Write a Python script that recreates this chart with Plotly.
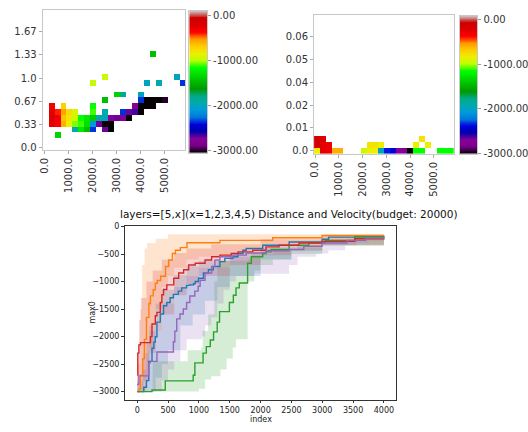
import plotly.graph_objects as go

W, H = 528, 432

# ---- nipy_spectral colormap (matplotlib segment data) ----
NIPY_POS = [0.00, 0.05, 0.10, 0.15, 0.20, 0.25, 0.30, 0.35, 0.40, 0.45, 0.50,
            0.55, 0.60, 0.65, 0.70, 0.75, 0.80, 0.85, 0.90, 0.95, 1.00]
NIPY_R = [0, .4667, .5333, 0, 0, 0, 0, 0, 0, 0, 0, 0, 0, .7333, .9333, 1, 1, 1, .8667, .8, .8]
NIPY_G = [0, 0, 0, 0, 0, .4667, .6, .6667, .6667, .6, .7333, .8667, 1, 1, .9333, .8, .6, 0, 0, 0, .8]
NIPY_B = [0, .5333, .6, .6667, .8667, .8667, .8667, .6667, .5333, 0, 0, 0, 0, 0, 0, 0, 0, 0, 0, 0, .8]
nipy = [[p, "rgb(%d,%d,%d)" % (round(r * 255), round(g * 255), round(b * 255))]
        for p, r, g, b in zip(NIPY_POS, NIPY_R, NIPY_G, NIPY_B)]

# ---- top-left heatmap: bin column, bin row, value ----
tl_col = [1, 1, 1, 1, 2, 2, 2, 3, 3, 3, 3, 4, 4, 4, 5, 5, 5, 5, 6, 6, 6, 7, 7, 7,
          8, 8, 8, 8, 8, 9, 9, 10, 10, 10, 10, 10, 11, 11, 12, 12, 13, 13, 13, 14, 14,
          15, 15, 16, 16, 16, 16, 17, 17, 17, 18, 18, 18, 19, 19, 20, 22, 23, 2, 8, 10, 11]
tl_row = [4, 5, 6, 7, 4, 5, 6, 4, 5, 6, 7, 4, 5, 6, 3, 4, 5, 6, 3, 4, 5, 3, 4, 5,
          3, 4, 5, 6, 7, 4, 5, 4, 5, 6, 8, 12, 4, 5, 5, 9, 5, 6, 9, 5, 6,
          6, 7, 6, 7, 8, 9, 7, 8, 11, 7, 8, 16, 8, 11, 8, 12, 11, 2, 11, 3, 3]
tl_val = [-250, -200, -250, -300, -350, -300, -400, -600, -650, -550, -700, -850, -800, -750,
          -1950, -1050, -950, -900, -1250, -1100, -1150, -1450, -1300, -1250,
          -2350, -2100, -1400, -1100, -1150, -2700, -1900, -3040, -2000, -1950, -1450, -950,
          -3040, -2750, -2700, -1350, -2750, -2350, -1800, -3040, -2700,
          -2650, -2750, -3040, -3040, -2350, -2000, -3040, -3040, -2000, -3040, -3040, -1450,
          -3040, -1950, -3000, -2000, -2350, -1350, -950, -2700, -3040]

# ---- top-right heatmap ----
tr_col = [0, 1, 2, 3, 4, 8, 9, 10, 11, 12, 13, 14, 15, 16, 17, 18, 21, 22, 23,
          0, 1, 2, 9, 10, 11, 17, 19, 0, 1, 18]
tr_row = [0] * 19 + [1] * 8 + [2] * 3
tr_val = [-850, -250, -300, -600, -600, -950, -850, -850, -2000, -2350, -2400, -2700, -2750,
          -3000, -1150, -1150, -1150, -1150, -1150,
          -200, -250, -300, -800, -800, -850, -850, -850, -150, -200, -800]

# colour ranges of the two colour bars
TL_ZRANGE = [-3045, 105]
TR_ZRANGE = [-3000, 80]
CB_TICKS = [0, -1000, -2000, -3000]
CB_LABELS = ["0.00", "-1000.00", "-2000.00", "-3000.00"]

# ---- bottom chart: step curves (index, max0) ----
blue_x = [0, 107, 150, 187, 240, 270, 294, 320, 374, 427, 480, 534, 587, 667, 721, 801, 854, 913,
          940, 994, 1074, 1154, 1234, 1341, 1421, 1554, 1634, 1714, 1768, 2035, 2463, 2997, 3103, 3530, 4000]
blue_y = [-3000, -2920, -2800, -2450, -2212, -2100, -2004, -1737, -1589, -1440, -1381, -1293, -1233,
          -1174, -1115, -1070, -1060, -1040, -1000, -940, -845, -786, -727, -638, -578, -549, -490,
          -430, -400, -341, -282, -230, -193, -180, -175]
blue_lo_x = [0, 250, 300, 400, 500, 700, 900, 1100, 1300, 1500, 2000, 2500, 3000, 4000]
blue_lo_y = [-3000, -3000, -2750, -2500, -2250, -1800, -1600, -1350, -1100, -900, -600, -450, -330, -250]
blue_hi_x = [0, 80, 150, 200, 300, 400, 600, 800, 1000, 1500, 2000, 3000, 4000]
blue_hi_y = [-3000, -2600, -2100, -1800, -1400, -1150, -880, -720, -620, -460, -360, -220, -150]

orange_x = [0, 30, 53, 90, 117, 150, 190, 214, 260, 294, 326, 380, 459, 510, 570, 620, 700, 807,
            1341, 2196, 2997, 4000]
orange_y = [-3000, -2950, -2700, -2400, -2050, -1650, -1400, -1260, -1150, -1030, -980, -904, -727,
            -608, -490, -430, -383, -294, -252, -205, -163, -160]
orange_lo_x = [0, 100, 150, 200, 250, 300, 400, 500, 600, 800, 1000, 1500, 2000, 3000, 4000]
orange_lo_y = [-3000, -3000, -2700, -2200, -1800, -1500, -1100, -900, -750, -600, -550, -450, -350, -260, -220]
orange_hi_x = [0, 50, 80, 120, 160, 300, 500, 4000]
orange_hi_y = [-2500, -1500, -700, -400, -300, -220, -140, -120]

green_x = [0, 240, 455, 908, 935, 1068, 1121, 1185, 1238, 1297, 1335, 1495, 1559, 1602, 1655,
           1790, 1850, 2035, 2088, 2170, 2463, 2784, 3050, 3530, 4000]
green_y = [-3000, -2970, -2805, -2704, -2478, -2300, -2182, -2063, -1915, -1737, -1547, -1381,
           -1250, -1115, -1025, -667, -549, -490, -460, -418, -341, -300, -252, -193, -190]
green_lo_x = [0, 900, 1000, 1100, 1200, 1350, 1450, 1550, 1600, 1780, 1790, 1900, 2000, 2200,
              2500, 3000, 4000]
green_lo_y = [-3000, -3000, -2950, -2780, -2720, -2600, -2400, -2200, -2050, -2050, -1000, -800,
              -700, -600, -500, -350, -220]
green_hi_x = [0, 230, 250, 800, 820, 1040, 1060, 1150, 1250, 1300, 1800, 1850, 2200, 2600, 3000,
              3500, 4000]
green_hi_y = [-3000, -3000, -2450, -2450, -2250, -2200, -1900, -1600, -1000, -620, -600, -500,
              -420, -330, -250, -200, -170]

red_x = [0, 10, 27, 53, 214, 240, 294, 320, 374, 400, 427, 480, 593, 673, 753, 834, 940, 1100,
         1207, 1341, 1527, 1634, 1874, 2088, 2300, 2624, 2997, 3530, 4000]
red_y = [-2700, -2300, -2150, -2110, -2000, -1770, -1620, -1560, -1380, -1240, -1145, -1060, -940,
         -845, -786, -700, -667, -608, -549, -520, -490, -460, -430, -370, -341, -300, -270, -222, -215]
red_lo_x = [0, 100, 200, 300, 400, 600, 800, 1000, 1500, 2000, 2500, 3000, 4000]
red_lo_y = [-3000, -2800, -2300, -1900, -1600, -1250, -1050, -900, -700, -520, -420, -340, -260]
red_hi_x = [0, 30, 60, 150, 250, 400, 600, 800, 1200, 2000, 3000, 4000]
red_hi_y = [-2300, -1700, -1300, -1000, -800, -600, -480, -400, -320, -230, -170, -150]

purple_x = [0, 27, 187, 214, 320, 587, 610, 641, 694, 748, 801, 854, 934, 988, 1020, 1100, 1207,
            1260, 1341, 1554, 1768, 2088, 2463, 2700, 2997, 3400, 3700, 4000]
purple_y = [-2870, -2715, -2478, -2450, -2280, -2093, -1900, -1678, -1589, -1500, -1381, -1263,
            -1174, -1085, -976, -845, -727, -608, -549, -520, -480, -440, -418, -358, -300, -252,
            -210, -195]
purple_lo_x = [0, 350, 400, 500, 600, 700, 800, 1050, 1100, 1200, 1300, 1400, 1500, 1600, 1900,
               2463, 2600, 2900, 3100, 3370, 3560, 3750, 4000]
purple_lo_y = [-3000, -3000, -2800, -2600, -2450, -2250, -2050, -2000, -1800, -1650, -1400, -1150,
               -1000, -900, -860, -700, -550, -490, -430, -340, -290, -250, -240]
purple_hi_x = [0, 100, 200, 400, 600, 800, 1000, 1500, 2000, 3000, 4000]
purple_hi_y = [-2800, -2300, -1900, -1400, -1100, -900, -750, -550, -400, -250, -170]

series = [
    ("#1f77b4", "31,119,180", blue_x, blue_y, blue_lo_x, blue_lo_y, blue_hi_x, blue_hi_y),
    ("#ff7f0e", "255,127,14", orange_x, orange_y, orange_lo_x, orange_lo_y, orange_hi_x, orange_hi_y),
    ("#2ca02c", "44,160,44", green_x, green_y, green_lo_x, green_lo_y, green_hi_x, green_hi_y),
    ("#d62728", "214,39,40", red_x, red_y, red_lo_x, red_lo_y, red_hi_x, red_hi_y),
    ("#9467bd", "148,103,189", purple_x, purple_y, purple_lo_x, purple_lo_y, purple_hi_x, purple_hi_y),
]

FONT = "DejaVu Sans"
fig = go.Figure()


def px_x(p):
    return p / W


def px_y(p):
    return 1 - p / H


def grid(cols, rows, vals, n=24):
    z = [[None] * n for _ in range(n)]
    for c, r, v in zip(cols, rows, vals):
        z[r][c] = v
    return z


def add_cbar(zr, xa, ya):
    n = 300
    step = (zr[1] - zr[0]) / n
    levels = [zr[0] + step * (k + 0.5) for k in range(n)]
    fig.add_trace(go.Heatmap(z=[[v] for v in levels], x0=0, dx=1, y0=levels[0], dy=step,
                             colorscale=nipy, zmin=zr[0], zmax=zr[1], showscale=False,
                             xaxis=xa, yaxis=ya, hoverinfo="skip"))


# top-left heatmap
TL_X = [-83, 5868]
TL_Y = [-0.028, 1.975]
dx1 = (TL_X[1] - TL_X[0]) / 24
dy1 = (TL_Y[1] - TL_Y[0]) / 24
fig.add_trace(go.Heatmap(
    z=grid(tl_col, tl_row, tl_val), x0=TL_X[0] + dx1 / 2, dx=dx1, y0=TL_Y[0] + dy1 / 2, dy=dy1,
    colorscale=nipy, zmin=TL_ZRANGE[0], zmax=TL_ZRANGE[1], showscale=False,
    xaxis="x", yaxis="y", hoverongaps=False))
add_cbar(TL_ZRANGE, "x4", "y4")

# top-right heatmap
TR_X = [-42, 5833]
TR_Y = [-0.0015, 0.0693]
dx2 = (TR_X[1] - TR_X[0]) / 24
dy2 = (TR_Y[1] - TR_Y[0]) / 24
fig.add_trace(go.Heatmap(
    z=grid(tr_col, tr_row, tr_val), x0=TR_X[0] + dx2 / 2, dx=dx2, y0=TR_Y[0] + dy2 / 2, dy=dy2,
    colorscale=nipy, zmin=TR_ZRANGE[0], zmax=TR_ZRANGE[1], showscale=False,
    xaxis="x2", yaxis="y2", hoverongaps=False))
add_cbar(TR_ZRANGE, "x5", "y5")

# bottom: bands first, then lines
for col, rgb, mx, my, lx, ly, hx, hy in series:
    fig.add_trace(go.Scatter(x=lx, y=ly, mode="lines", line=dict(width=0, shape="hv"),
                             xaxis="x3", yaxis="y3", showlegend=False, hoverinfo="skip"))
    fig.add_trace(go.Scatter(x=hx, y=hy, mode="lines", line=dict(width=0, shape="hv"),
                             fill="tonexty", fillcolor="rgba(%s,0.2)" % rgb,
                             xaxis="x3", yaxis="y3", showlegend=False, hoverinfo="skip"))
for col, rgb, mx, my, lx, ly, hx, hy in series:
    fig.add_trace(go.Scatter(x=mx, y=my, mode="lines", line=dict(color=col, width=1.4, shape="hv"),
                             xaxis="x3", yaxis="y3", showlegend=False))

top_axis = dict(showgrid=False, zeroline=False, showline=True, mirror=True, linecolor="#c8c8c8",
                linewidth=1, ticks="outside", ticklen=3, tickcolor="#aaaaaa",
                tickfont=dict(family=FONT, size=10, color="#333333"))
bot_axis = dict(showgrid=False, zeroline=False, showline=True, mirror=True, linecolor="#333333",
                linewidth=0.8, ticks="outside", ticklen=3, tickcolor="#333333",
                tickfont=dict(family=FONT, size=8, color="#222222"))
cb_x = dict(showgrid=False, zeroline=False, showline=True, mirror=True, linecolor="#c8c8c8",
            linewidth=1, showticklabels=False, ticks="", range=[-0.5, 0.5])
cb_y = dict(showgrid=False, zeroline=False, showline=True, mirror=True, linecolor="#c8c8c8",
            linewidth=1, side="right", ticks="outside", ticklen=3, tickcolor="#999999",
            tickvals=CB_TICKS, ticktext=CB_LABELS,
            tickfont=dict(family=FONT, size=10, color="#333333"))

fig.update_layout(
    width=W, height=H, margin=dict(l=0, r=0, t=0, b=0),
    paper_bgcolor="white", plot_bgcolor="white", showlegend=False,
    xaxis=dict(top_axis, domain=[px_x(38), px_x(182)], range=TL_X, anchor="y",
               tickvals=[0, 1000, 2000, 3000, 4000, 5000],
               ticktext=["0.0", "1000.0", "2000.0", "3000.0", "4000.0", "5000.0"], tickangle=-90),
    yaxis=dict(top_axis, domain=[px_y(149), px_y(6)], range=TL_Y, anchor="x",
               tickvals=[0, 1 / 3, 2 / 3, 1, 4 / 3, 5 / 3],
               ticktext=["0.0", "0.33", "0.67", "1.0", "1.33", "1.67"]),
    xaxis2=dict(top_axis, domain=[px_x(312), px_x(453)], range=TR_X, anchor="y2",
                tickvals=[0, 1000, 2000, 3000, 4000, 5000],
                ticktext=["0.0", "1000.0", "2000.0", "3000.0", "4000.0", "5000.0"], tickangle=-90),
    yaxis2=dict(top_axis, domain=[px_y(153), px_y(11)], range=TR_Y, anchor="x2",
                tickvals=[k * 0.07 / 6 for k in range(6)],
                ticktext=["0.0", "0.01", "0.02", "0.04", "0.05", "0.06"]),
    xaxis3=dict(bot_axis, domain=[px_x(121), px_x(395)], range=[-200, 4200], anchor="y3",
                tickvals=list(range(0, 4001, 500))),
    yaxis3=dict(bot_axis, domain=[px_y(404), px_y(227)], range=[-3145, 5], anchor="x3",
                tickvals=list(range(-3000, 1, 500))),
    xaxis4=dict(cb_x, domain=[px_x(186), px_x(204)], anchor="y4"),
    yaxis4=dict(cb_y, domain=[px_y(152), px_y(7)], range=TL_ZRANGE, anchor="x4"),
    xaxis5=dict(cb_x, domain=[px_x(459), px_x(477)], anchor="y5"),
    yaxis5=dict(cb_y, domain=[px_y(153), px_y(12)], range=TR_ZRANGE, anchor="x5"),
    annotations=[
        dict(text="layers=[5,x](x=1,2,3,4,5) Distance and Velocity(budget: 20000)",
             x=px_x(287), y=px_y(214), xref="paper", yref="paper", showarrow=False,
             xanchor="center", yanchor="middle", font=dict(family=FONT, size=10.5, color="#111111")),
        dict(text="index", x=px_x(258), y=px_y(424), xref="paper", yref="paper", showarrow=False,
             xanchor="center", yanchor="middle", font=dict(family=FONT, size=8, color="#222222")),
        dict(text="max0", x=px_x(88), y=px_y(315), xref="paper", yref="paper", showarrow=False,
             textangle=-90, xanchor="center", yanchor="middle",
             font=dict(family=FONT, size=8, color="#222222")),
    ],
)

fig.write_html("out.html", config={"displayModeBar": False},
               post_script="document.body.style.margin='0';document.body.style.overflow='hidden';")
